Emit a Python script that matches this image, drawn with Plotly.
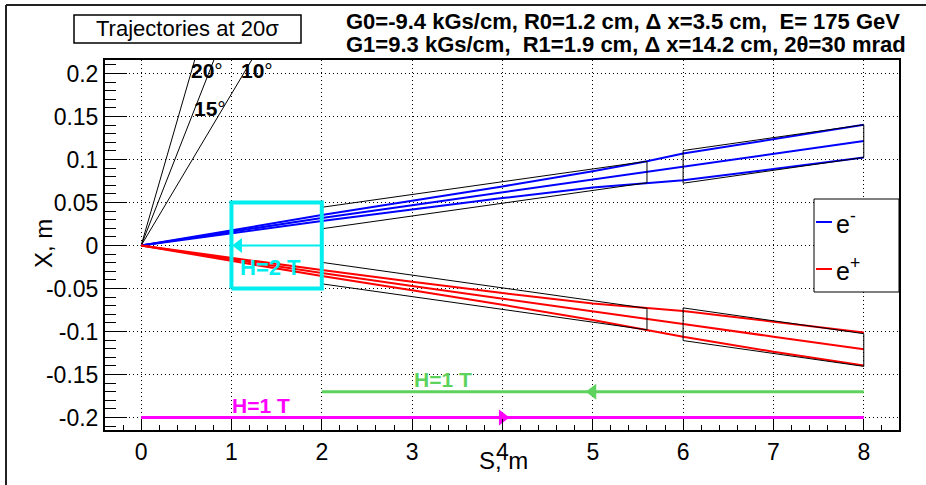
import math
import plotly.graph_objects as go

# ---------------- data ----------------
s_pts = [0, 1, 2, 3, 4, 5, 5.6, 6, 7, 8]
e_minus_upper = [0, 0.0175, 0.0355, 0.0520, 0.0688, 0.0865, 0.0980, 0.1070, 0.1240, 0.1405]
e_minus_mid   = [0, 0.0160, 0.0320, 0.0470, 0.0620, 0.0770, 0.0855, 0.0915, 0.1065, 0.1215]
e_minus_lower = [0, 0.0145, 0.0285, 0.0420, 0.0552, 0.0675, 0.0730, 0.0760, 0.0890, 0.1025]
e_plus_upper  = [0, -0.0145, -0.0285, -0.0420, -0.0552, -0.0675, -0.0730, -0.0760, -0.0885, -0.1010]
e_plus_mid    = [0, -0.0160, -0.0320, -0.0470, -0.0620, -0.0770, -0.0855, -0.0912, -0.1060, -0.1205]
e_plus_lower  = [0, -0.0175, -0.0355, -0.0520, -0.0688, -0.0865, -0.0980, -0.1060, -0.1235, -0.1395]

quad0_s = [2.0, 5.6]
quad0_axis = [0.032, 0.0855]
R0 = 0.0125
quad1_s = [6.0, 8.0]
quad1_axis = [0.0915, 0.1215]
R1 = 0.019

angles_deg = [20, 15, 10]
angle_labels = ["20", "15", "10"]
angle_label_s = [0.53, 0.565, 1.08]
angle_label_x = [0.2034, 0.159, 0.2034]

magnet2T_s = [1.0, 2.0]
magnet2T_x = [-0.05, 0.05]
field2T_line_s = [2.0, 1.05]
field2T_arrow_s = 1.08
field2T_label = "H=2 T"

field1T_green_s = [2.0, 8.0]
field1T_green_x = -0.17
field1T_green_arrow_s = 5.0
field1T_mag_s = [0.0, 8.0]
field1T_mag_x = -0.2
field1T_mag_arrow_s = 4.0
field1T_label = "H=1 T"

x_tick_vals = [0, 1, 2, 3, 4, 5, 6, 7, 8]
x_tick_text = ["0", "1", "2", "3", "4", "5", "6", "7", "8"]
y_tick_vals = [-0.2, -0.15, -0.1, -0.05, 0, 0.05, 0.1, 0.15, 0.2]
y_tick_text = ["-0.2", "-0.15", "-0.1", "-0.05", "0", "0.05", "0.1", "0.15", "0.2"]

title_text = "Trajectories at 20σ"
param_line1 = "G0=-9.4 kGs/cm, R0=1.2 cm, Δ x=3.5 cm,  E= 175 GeV"
param_line2 = "G1=9.3 kGs/cm,  R1=1.9 cm, Δ x=14.2 cm, 2θ=30 mrad"
legend_labels = ["e<sup>-</sup>", "e<sup>+</sup>"]

# ---------------- layout geometry ----------------
W, H = 926, 485
PL, PR, PT, PB = 105, 899, 60, 430
X_RANGE = [-0.4, 8.39]
Y_RANGE = [-0.2145, 0.2158]
FONT = "Liberation Sans, Arial, sans-serif"

BLUE = "#0000ff"
RED = "#ff0000"
CYAN = "#00eeee"
GREEN = "#5dd35d"
MAGENTA = "#ff00ff"


def pxx(px):
    return (px - PL) / (PR - PL)


def pxy(py):
    return (PB - py) / (PB - PT)


fig = go.Figure()

# angle reference lines
for a in angles_deg:
    t = math.tan(math.radians(a))
    x_end = 0.3
    fig.add_trace(go.Scatter(x=[0, x_end / t], y=[0, x_end], mode="lines",
                             line=dict(color="black", width=1), showlegend=False,
                             hoverinfo="skip"))

# trajectories
for arr in (e_minus_upper, e_minus_mid, e_minus_lower):
    fig.add_trace(go.Scatter(x=s_pts, y=arr, mode="lines",
                             line=dict(color=BLUE, width=2), showlegend=False))
for arr in (e_plus_upper, e_plus_mid, e_plus_lower):
    fig.add_trace(go.Scatter(x=s_pts, y=arr, mode="lines",
                             line=dict(color=RED, width=2), showlegend=False))

# quadrupole apertures (both beams)
for sgn in (1, -1):
    for qs, qa, R in ((quad0_s, quad0_axis, R0), (quad1_s, quad1_axis, R1)):
        xs = [qs[0], qs[1], qs[1], qs[0], qs[0]]
        ys = [sgn * qa[0] + R, sgn * qa[1] + R, sgn * qa[1] - R, sgn * qa[0] - R, sgn * qa[0] + R]
        fig.add_trace(go.Scatter(x=xs, y=ys, mode="lines",
                                 line=dict(color="black", width=1), showlegend=False))

# 2 T magnet box
fig.add_trace(go.Scatter(
    x=[magnet2T_s[0], magnet2T_s[1], magnet2T_s[1], magnet2T_s[0], magnet2T_s[0]],
    y=[magnet2T_x[0], magnet2T_x[0], magnet2T_x[1], magnet2T_x[1], magnet2T_x[0]],
    mode="lines", line=dict(color=CYAN, width=4), showlegend=False))
fig.add_trace(go.Scatter(x=field2T_line_s, y=[0, 0], mode="lines",
                         line=dict(color=CYAN, width=2), showlegend=False))
fig.add_trace(go.Scatter(x=[field2T_arrow_s], y=[0], mode="markers",
                         marker=dict(symbol="triangle-left", size=13, color=CYAN),
                         showlegend=False))

# 1 T fields
fig.add_trace(go.Scatter(x=field1T_green_s, y=[field1T_green_x] * 2, mode="lines",
                         line=dict(color=GREEN, width=3), showlegend=False))
fig.add_trace(go.Scatter(x=[field1T_green_arrow_s], y=[field1T_green_x], mode="markers",
                         marker=dict(symbol="triangle-left", size=14, color=GREEN),
                         showlegend=False))
fig.add_trace(go.Scatter(x=field1T_mag_s, y=[field1T_mag_x] * 2, mode="lines",
                         line=dict(color=MAGENTA, width=3), showlegend=False))
fig.add_trace(go.Scatter(x=[field1T_mag_arrow_s], y=[field1T_mag_x], mode="markers",
                         marker=dict(symbol="triangle-right", size=14, color=MAGENTA),
                         showlegend=False))

annotations = []
# angle labels
for lab, s, x in zip(angle_labels, angle_label_s, angle_label_x):
    annotations.append(dict(x=s, y=x, xref="x", yref="y", text="<b>%s</b>°" % lab,
                            showarrow=False, xanchor="left", yanchor="middle",
                            font=dict(family=FONT, size=21, color="black")))
# field labels
annotations.append(dict(x=1.43, y=-0.026, xref="x", yref="y", text="<b>%s</b>" % field2T_label,
                        showarrow=False, font=dict(family=FONT, size=22, color=CYAN)))
annotations.append(dict(x=3.34, y=-0.1555, xref="x", yref="y", text="<b>%s</b>" % field1T_label,
                        showarrow=False, font=dict(family=FONT, size=21, color=GREEN)))
annotations.append(dict(x=1.33, y=-0.186, xref="x", yref="y", text="<b>%s</b>" % field1T_label,
                        showarrow=False, font=dict(family=FONT, size=21, color=MAGENTA)))
# title
annotations.append(dict(x=pxx(187.5), y=pxy(29), xref="paper", yref="paper", text=title_text,
                        showarrow=False, xanchor="center", yanchor="middle",
                        font=dict(family=FONT, size=22, color="black")))
# params
annotations.append(dict(x=pxx(344), y=pxy(22), xref="paper", yref="paper",
                        text="<b>%s</b>" % param_line1, showarrow=False,
                        xanchor="left", yanchor="middle",
                        font=dict(family=FONT, size=22, color="black")))
annotations.append(dict(x=pxx(344), y=pxy(45), xref="paper", yref="paper",
                        text="<b>%s</b>" % param_line2, showarrow=False,
                        xanchor="left", yanchor="middle",
                        font=dict(family=FONT, size=22, color="black")))
# legend texts
for lab, py in zip(legend_labels, (222, 269)):
    annotations.append(dict(x=pxx(834), y=pxy(py), xref="paper", yref="paper", text=lab,
                            showarrow=False, xanchor="left", yanchor="middle",
                            font=dict(family=FONT, size=25, color="black")))
# axis titles
annotations.append(dict(x=pxx(503), y=pxy(460), xref="paper", yref="paper", text="S, m",
                        showarrow=False, xanchor="center", yanchor="middle",
                        font=dict(family=FONT, size=24, color="black")))
annotations.append(dict(x=pxx(43), y=pxy(244), xref="paper", yref="paper", text="X, m",
                        showarrow=False, xanchor="center", yanchor="middle", textangle=-90,
                        font=dict(family=FONT, size=24, color="black")))

shapes = [
    # canvas border (left and top)
    dict(type="line", xref="paper", yref="paper", x0=pxx(6), x1=pxx(6), y0=pxy(490), y1=pxy(5),
         line=dict(color="#222222", width=2)),
    dict(type="line", xref="paper", yref="paper", x0=pxx(6), x1=pxx(930), y0=pxy(5), y1=pxy(5),
         line=dict(color="#222222", width=2)),
    # title box
    dict(type="rect", xref="paper", yref="paper", x0=pxx(74), x1=pxx(301), y0=pxy(43), y1=pxy(15),
         line=dict(color="black", width=1.5), fillcolor="rgba(0,0,0,0)"),
    # legend box
    dict(type="rect", xref="paper", yref="paper", x0=pxx(814), x1=pxx(899), y0=pxy(292), y1=pxy(199),
         line=dict(color="black", width=1), fillcolor="white"),
    dict(type="line", xref="paper", yref="paper", x0=pxx(816), x1=pxx(832), y0=pxy(222), y1=pxy(222),
         line=dict(color=BLUE, width=2)),
    dict(type="line", xref="paper", yref="paper", x0=pxx(816), x1=pxx(832), y0=pxy(269), y1=pxy(269),
         line=dict(color=RED, width=2)),
]

fig.update_layout(
    width=W, height=H, autosize=False,
    margin=dict(l=PL, r=W - PR, t=PT, b=H - PB, pad=0),
    paper_bgcolor="white", plot_bgcolor="white",
    font=dict(family=FONT, size=22, color="black"),
    showlegend=False,
    annotations=annotations,
    shapes=shapes,
    xaxis=dict(range=X_RANGE, tickmode="array", tickvals=x_tick_vals, ticktext=x_tick_text,
               ticks="inside", ticklen=11, tickwidth=1, tickcolor="black",
               showline=True, linecolor="black", linewidth=2, mirror=True,
               showgrid=True, gridcolor="black", gridwidth=1, griddash="1px,3px",
               zeroline=False, tickfont=dict(family=FONT, size=23, color="black"),
               minor=dict(tickmode="linear", tick0=0, dtick=0.2, ticks="inside", ticklen=5,
                          tickcolor="black", tickwidth=1, showgrid=False)),
    yaxis=dict(range=Y_RANGE, tickmode="array", tickvals=y_tick_vals, ticktext=y_tick_text,
               ticks="inside", ticklen=22, tickwidth=1, tickcolor="black",
               showline=True, linecolor="black", linewidth=2, mirror=True,
               showgrid=True, gridcolor="black", gridwidth=1, griddash="1px,3px",
               zeroline=False, tickfont=dict(family=FONT, size=23, color="black"),
               minor=dict(tickmode="linear", tick0=0, dtick=0.01, ticks="inside", ticklen=11,
                          tickcolor="black", tickwidth=1, showgrid=False)),
)

fig.write_html("out.html")
